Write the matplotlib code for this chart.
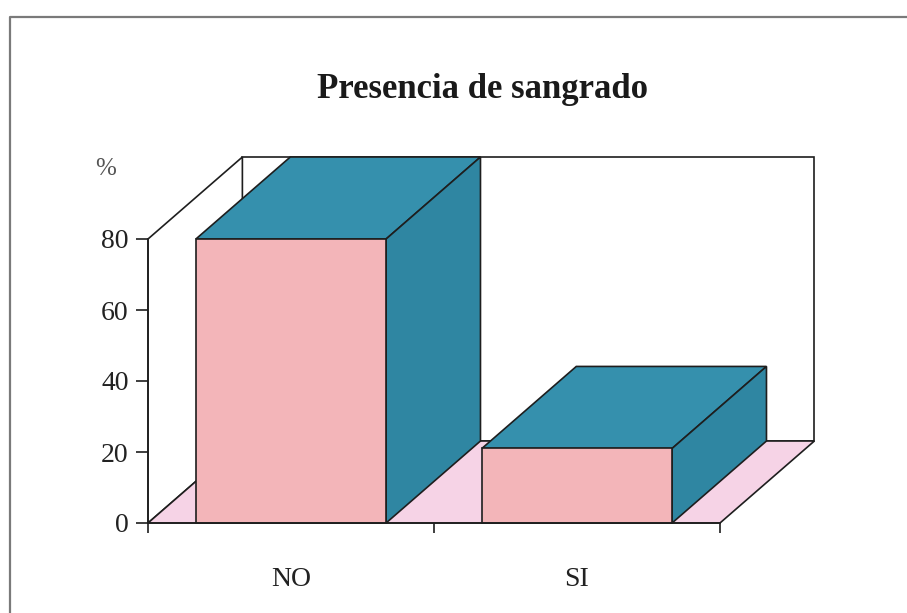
import matplotlib
matplotlib.use("Agg")
import matplotlib.pyplot as plt
from matplotlib.patches import Polygon

categories = ["NO", "SI"]
values = [80, 21]
yticks = [0, 20, 40, 60, 80]
title = "Presencia de sangrado"

SERIF = ["Liberation Serif", "DejaVu Serif"]
FRONT = "#f3b5b9"
TOPC = "#3590ad"
SIDEC = "#2f86a2"
FLOOR = "#f6d3e6"
EDGE = "#1e1e1e"

fig = plt.figure(figsize=(9.07, 6.13), dpi=100)
fig.patch.set_facecolor("white")

# outer frame
frame = fig.add_axes([0, 0, 1, 1], facecolor="none")
frame.set_xlim(0, 907); frame.set_ylim(613, 0); frame.axis("off")
frame.plot([10, 10, 907], [613, 17, 17], color="#7a7a7a", lw=1.6)

ax = fig.add_axes([148 / 907, (613 - 523) / 613, 572 / 907, 284 / 613])
ax.set_xlim(0, 2)
ax.set_ylim(0, 80)
ax.set_facecolor("none")

# depth offset (in data units)
DX, DY = 0.33, 23.1
ymax = 80
n = len(categories)

def poly(pts, fc, z, lw=1.2):
    p = Polygon(pts, closed=True, facecolor=fc, edgecolor=EDGE, lw=lw,
                clip_on=False, zorder=z, joinstyle="miter")
    ax.add_patch(p)

# back wall
poly([(DX, DY), (n + DX, DY), (n + DX, ymax + DY), (DX, ymax + DY)], "white", 1)
# left wall
poly([(0, 0), (DX, DY), (DX, ymax + DY), (0, ymax)], "white", 1)
# floor
poly([(0, 0), (n, 0), (n + DX, DY), (DX, DY)], FLOOR, 2)

width = 0.665
for i, v in enumerate(values):
    x0 = i + 0.5 - width / 2
    x1 = i + 0.5 + width / 2
    # top
    poly([(x0, v), (x1, v), (x1 + DX, v + DY), (x0 + DX, v + DY)], TOPC, 3 + i)
    # side
    poly([(x1, 0), (x1 + DX, DY), (x1 + DX, v + DY), (x1, v)], SIDEC, 3 + i)
    # front
    poly([(x0, 0), (x1, 0), (x1, v), (x0, v)], FRONT, 3 + i)

for s in ["top", "right"]:
    ax.spines[s].set_visible(False)
for s in ["left", "bottom"]:
    ax.spines[s].set_color(EDGE)
    ax.spines[s].set_linewidth(1.2)
    ax.spines[s].set_zorder(10)

ax.set_yticks(yticks)
ax.set_yticklabels([str(t) for t in yticks], fontfamily=SERIF, fontsize=20, color="#222222")
ax.tick_params(axis="y", direction="out", length=9, width=1.2, pad=5, color=EDGE)

ax.set_xticks(range(n + 1))
ax.set_xticklabels([""] * (n + 1))
ax.tick_params(axis="x", which="major", direction="out", length=7, width=1.2, color=EDGE)
ax.set_xticks([i + 0.5 for i in range(n)], minor=True)
ax.set_xticklabels(categories, minor=True, fontfamily=SERIF, fontsize=20, color="#222222")
ax.tick_params(axis="x", which="minor", length=0, pad=32)

ax.text(-0.15, ymax + 0.85 * DY, "%", transform=ax.transData, ha="center", va="center",
        fontfamily=SERIF, fontsize=18, color="#555555")

fig.text(483 / 907, 1 - 90 / 613, title, ha="center", va="center",
         fontfamily=SERIF, fontsize=25, fontweight="bold", color="#1a1a1a")

fig.savefig("out.png", dpi=100, facecolor="white")
